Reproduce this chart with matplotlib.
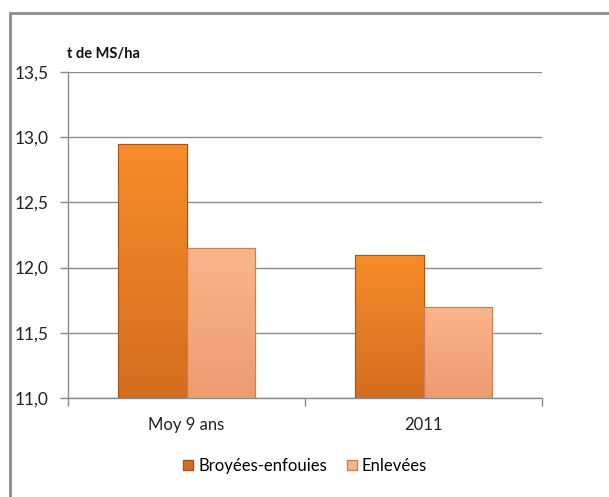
import matplotlib
matplotlib.use("Agg")
import matplotlib.pyplot as plt
import numpy as np
from matplotlib.patches import Rectangle
from matplotlib.colors import LinearSegmentedColormap

categories = ["Moy 9 ans", "2011"]
series_names = ["Broyées-enfouies", "Enlevées"]
broyees = [12.95, 12.10]
enlevees = [12.15, 11.70]
yticks = [11.0, 11.5, 12.0, 12.5, 13.0, 13.5]
ytick_labels = ["11,0", "11,5", "12,0", "12,5", "13,0", "13,5"]
ylabel = "t de MS/ha"

plt.rcParams['font.family'] = ['Lato', 'DejaVu Sans']

fig = plt.figure(figsize=(6.09, 4.97), dpi=100)
W, H = 609, 497
ax = fig.add_axes([68/W, 1-398/H, (542-68)/W, (398-72)/H])

x = np.arange(len(categories))
bw = 0.287
cols = [("#F88C2C", "#D46E1F", "#A85514"), ("#FBB48A", "#EC9C70", "#C9805A")]
ymin = 11.0
for i, (vals, (ctop, cbot, cedge)) in enumerate(zip([broyees, enlevees], cols)):
    bars = ax.bar(x + (i - 0.5) * bw, np.array(vals) - ymin, bw, bottom=ymin,
                  color=ctop, edgecolor=cedge, linewidth=0.8, zorder=3,
                  label=series_names[i])
    cmap = LinearSegmentedColormap.from_list("g", [cbot, ctop])
    for b in bars:
        x0, y0, w, h = b.get_x(), b.get_y(), b.get_width(), b.get_height()
        grad = np.linspace(0, 1, 100).reshape(-1, 1)
        im = ax.imshow(grad, extent=[x0, x0 + w, y0, y0 + h], origin="lower",
                       cmap=cmap, aspect="auto", zorder=3.5)
        im.set_clip_path(b)
        ax.add_patch(Rectangle((x0, y0), w, h, fill=False, edgecolor=cedge,
                               linewidth=0.8, zorder=4))

ax.set_xlim(-0.5, 1.5)
ax.set_ylim(11.0, 13.5)
ax.set_yticks(yticks)
ax.set_yticklabels(ytick_labels, fontsize=12.5, color="#222222")
ax.set_xticks(x)
ax.set_xticklabels(categories, fontsize=12, color="#222222")
ax.tick_params(axis='x', length=0, pad=14)
ax.set_xticks([-0.5, 0.5, 1.5], minor=True)
ax.tick_params(axis='x', which='minor', length=6, color="#888888", width=1)
ax.tick_params(axis='y', length=6, color="#888888", width=1, pad=8)
ax.grid(axis='y', color="#8c8c8c", linewidth=1, zorder=0)
ax.set_axisbelow(True)
for s in ["top", "right"]:
    ax.spines[s].set_visible(False)
for s in ["left", "bottom"]:
    ax.spines[s].set_color("#8c8c8c")
    ax.spines[s].set_linewidth(1)

fig.text(67/W, 1-54/H, ylabel, fontsize=10.5, fontweight="bold", ha="left",
         va="center", color="#111111")

handles = [Rectangle((0, 0), 1, 1, facecolor=cols[0][1], edgecolor=cols[0][2]),
           Rectangle((0, 0), 1, 1, facecolor=cols[1][0], edgecolor=cols[1][2])]
fig.legend(handles, series_names, loc="center", bbox_to_anchor=(305/W, 1-466/H),
           ncol=2, frameon=False, fontsize=12, handlelength=0.6, handleheight=0.6,
           handletextpad=0.3, columnspacing=1.2)

fig.patches.append(Rectangle((10/W, -0.1), 1.2, 1.1 - 13/H, transform=fig.transFigure,
                             fill=False, edgecolor="#8c8c8c", linewidth=2))

fig.savefig("out.png", dpi=100)
